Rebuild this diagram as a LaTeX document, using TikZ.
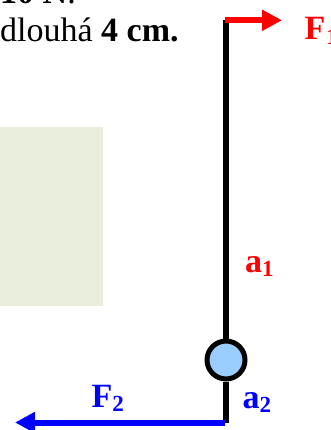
\documentclass[tikz,border=0pt]{standalone}
\usepackage{fontspec}
\setmainfont{Liberation Serif}
\usetikzlibrary{arrows.meta}
\definecolor{panelgreen}{RGB}{233,239,220}
\definecolor{ballblue}{RGB}{153,204,255}
\definecolor{fred}{RGB}{255,0,0}
\definecolor{fblue}{RGB}{0,0,255}
\newcommand{\bigtext}{\fontsize{34}{39}\selectfont}
\newcommand{\subtx}[1]{\raisebox{-4.5pt}{\fontsize{23}{23}\selectfont\bfseries #1}}
\begin{document}
\begin{tikzpicture}[x=1pt,y=-1pt,
  txt/.style={inner sep=0pt,anchor=base west,font=\bigtext},
  rod/.style={line width=6pt,black},
  force/.style={line width=6pt,-{Triangle[length=20pt,width=20pt]}},
  ballsty/.style={circle,draw=black,line width=5pt,fill=ballblue,minimum size=38pt,inner sep=0pt}]
\useasboundingbox (0,0) rectangle (330,430);
\fill[panelgreen] (0,127) rectangle (103,306);
% rod and ball
\coordinate (top) at (226,20);
\coordinate (bot) at (226,423);
\node[ballsty] (ball) at (226,360) {};
\draw[rod] (top) -- (ball.north);
\draw[rod] (ball.south) -- (bot);
% forces
\coordinate (f1start) at (225,20.3);
\coordinate (f1tip) at (282,20.3);
\coordinate (f2start) at (225,422.5);
\coordinate (f2tip) at (15,422.5);
\draw[force,fred] (f1start) -- (f1tip);
\draw[force,fblue] (f2start) -- (f2tip);
% texts
\node[txt] (t1) at (0,3.5) {\textbf{10 N}.};
\node[txt] (t2) at (0,41.5) {dlouhá \textbf{4 cm.}};
\node[txt,text=fred] (F1) at (304.5,40) {\textbf{F}\hspace{1pt}\subtx{1}};
\node[txt,text=fred] (a1) at (245,272) {\textbf{a}\subtx{1}};
\node[txt,text=fblue] (a2) at (242.5,408) {\textbf{a}\subtx{2}};
\node[txt,text=fblue] (F2) at (91.5,407) {\textbf{F}\subtx{2}};
\end{tikzpicture}
\end{document}
